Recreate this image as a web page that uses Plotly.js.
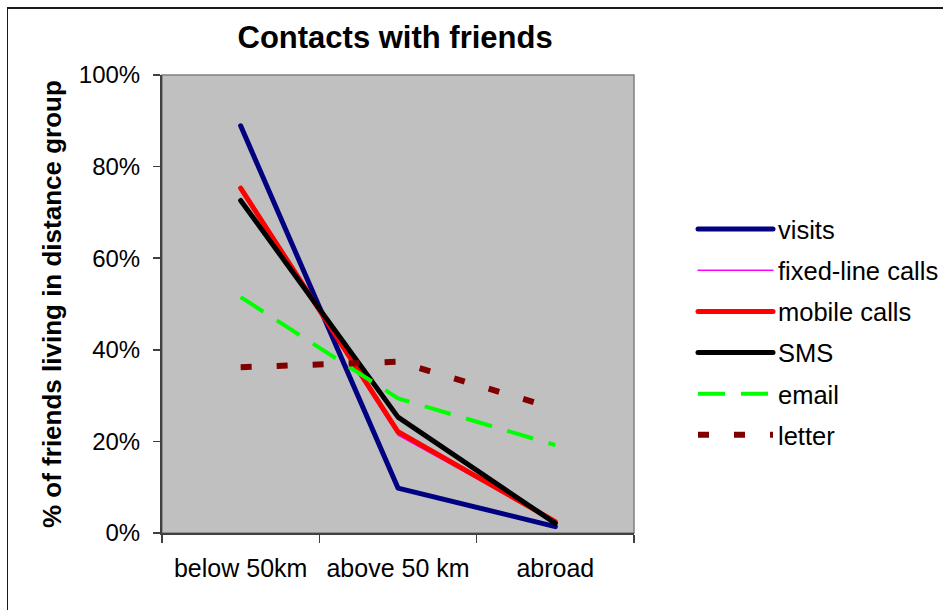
<!DOCTYPE html>
<html>
<head>
<meta charset="utf-8">
<script src="https://cdn.plot.ly/plotly-3.0.1.min.js"></script>
<style>
  html, body { margin: 0; padding: 0; background: #fff; }
  #wrap { position: relative; width: 943px; height: 610px; overflow: hidden; }
  #chart { width: 943px; height: 610px; }
  #frame { position: absolute; left: 7px; top: 7px; width: 960px; height: 640px;
           border-top: 2px solid #1a1a1a; border-left: 1px solid #1a1a1a; pointer-events: none; }
</style>
</head>
<body>
<div id="wrap">
  <div id="chart"></div>
  <div id="frame"></div>
</div>
<script>
const categories = ["below 50km", "above 50 km", "abroad"];
const visits = [0.889, 0.098, 0.014];
const fixedLineCalls = [0.750, 0.214, 0.025];
const mobileCalls = [0.753, 0.221, 0.025];
const sms = [0.726, 0.253, 0.021];
const email = [0.515, 0.294, 0.192];
const letter = [0.362, 0.374, 0.272];
const yTickVals = [0, 0.2, 0.4, 0.6, 0.8, 1.0];
const yTickText = ["0%", "20%", "40%", "60%", "80%", "100%"];
const yAxisTitle = "% of friends living in distance group";

const FONT = "Liberation Sans, Arial, sans-serif";

function tr(name, y, color, width, dash, group) {
  return {
    type: "scatter", mode: "lines", name: name,
    x: categories, y: y, legendgroup: group,
    line: { color: color, width: width, dash: dash || "solid" },
    hoverinfo: "skip"
  };
}

const data = [
  tr("visits", visits, "#000080", 5, "solid", "g1"),
  tr("fixed-line calls", fixedLineCalls, "#FF00FF", 1.5, "solid", "g2"),
  tr("mobile calls", mobileCalls, "#FF0000", 5, "solid", "g3"),
  tr("SMS", sms, "#000000", 5, "solid", "g4"),
  tr("email", email, "#00FF00", 4, "27px,16px", "g5"),
  tr("letter", letter, "#800000", 6, "11px,25px", "g6")
];

const PLOT_L = 162, PLOT_R = 634;

const layout = {
  width: 943, height: 610,
  margin: { l: PLOT_L, r: 943 - PLOT_R, t: 75, b: 77 },
  paper_bgcolor: "#ffffff",
  plot_bgcolor: "#C0C0C0",
  font: { family: FONT, color: "#000", size: 24 },
  title: {
    text: "<b>Contacts with friends</b>",
    font: { family: FONT, size: 31, color: "#000" },
    xref: "container", x: 0.419, xanchor: "center",
    yref: "container", y: 1 - 37 / 610, yanchor: "middle"
  },
  showlegend: true,
  legend: {
    xref: "container", yref: "container",
    x: 693 / 943, xanchor: "left",
    y: 1 - 206 / 610, yanchor: "top",
    bgcolor: "rgba(0,0,0,0)", borderwidth: 0,
    font: { family: FONT, size: 25.5, color: "#000" },
    itemwidth: 75,
    tracegroupgap: 5,
    traceorder: "grouped"
  },
  xaxis: {
    type: "category",
    range: [-0.5, 2.5],
    tickson: "boundaries",
    ticks: "outside", ticklen: 8, tickcolor: "#404040", tickwidth: 1.5,
    showline: true, linecolor: "#404040", linewidth: 2,
    showgrid: false, zeroline: false,
    tickfont: { family: FONT, size: 25, color: "#000" },
    ticklabelstandoff: 12,
    fixedrange: true
  },
  yaxis: {
    range: [0, 1],
    tickvals: yTickVals, ticktext: yTickText,
    ticks: "outside", ticklen: 7, tickcolor: "#404040", tickwidth: 1.5,
    showline: true, linecolor: "#404040", linewidth: 2,
    showgrid: false, zeroline: false,
    tickfont: { family: FONT, size: 24, color: "#000" },
    ticklabelstandoff: 8,
    automargin: false,
    fixedrange: true
  },
  annotations: [{
    text: "<b>" + yAxisTitle + "</b>",
    xref: "paper", yref: "paper",
    x: (52 - PLOT_L) / (PLOT_R - PLOT_L), y: 0.5,
    xanchor: "center", yanchor: "middle",
    textangle: -90, showarrow: false,
    font: { family: FONT, size: 26, color: "#000" }
  }],
  shapes: [{
    type: "rect", xref: "paper", yref: "paper",
    x0: 0, x1: 1, y0: 0, y1: 1,
    line: { color: "#808080", width: 1.5 },
    fillcolor: "rgba(0,0,0,0)", layer: "below"
  }]
};

Plotly.newPlot("chart", data, layout, { staticPlot: true, displayModeBar: false }).then(function (gd) {
  // round caps on the solid lines, as in the reference
  gd.querySelectorAll("path.js-line").forEach(function (p) {
    const da = p.style.strokeDasharray;
    if (!da || da === "none") { p.style.strokeLinecap = "round"; p.style.strokeLinejoin = "round"; }
  });
});
</script>
</body>
</html>
